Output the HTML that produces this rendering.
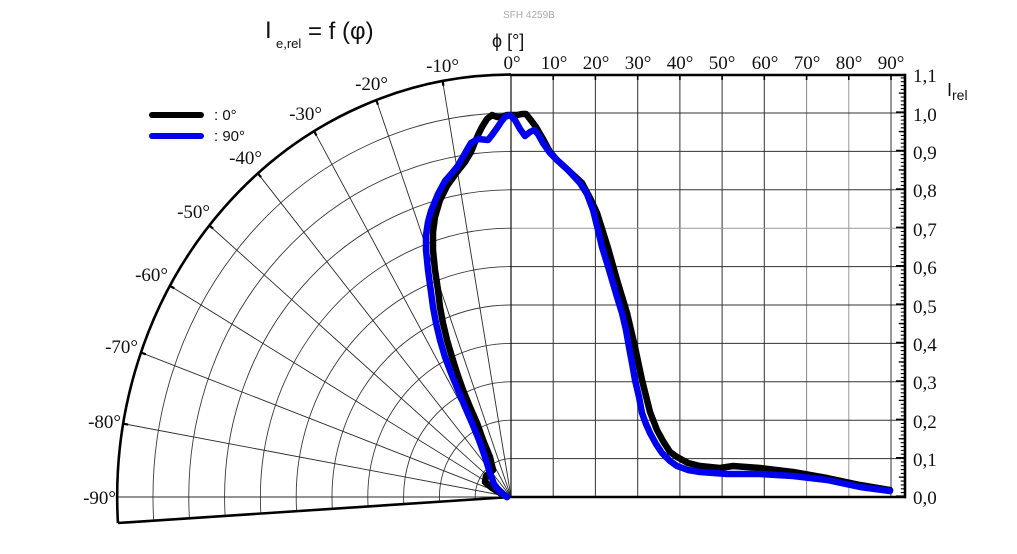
<!DOCTYPE html>
<html>
<head>
<meta charset="utf-8">
<style>
  html, body { margin: 0; padding: 0; background: #ffffff; }
  body { width: 1017px; height: 554px; overflow: hidden; }
  svg { display: block; }
  .ser { font-family: "Liberation Serif", "DejaVu Serif", serif; font-size: 19px; fill: #111; }
  .sans { font-family: "Liberation Sans", "DejaVu Sans", sans-serif; fill: #111; }
</style>
</head>
<body>
<svg width="1017" height="554" viewBox="0 0 1017 554" xmlns="http://www.w3.org/2000/svg">
  <rect x="0" y="0" width="1017" height="554" fill="#ffffff"/>

  <!-- Polar rings (ellipse arcs) -->
  <g fill="none" stroke="#3a3a3a" stroke-width="0.9">
    <path d="M511 458.6 A35.8 38.4 0 0 0 475.27 499.36"/>
    <path d="M511 420.2 A71.6 76.8 0 0 0 439.54 501.73"/>
    <path d="M511 381.8 A107.4 115.2 0 0 0 403.80 504.09"/>
    <path d="M511 343.4 A143.2 153.6 0 0 0 368.07 506.46"/>
    <path d="M511 305 A179 192 0 0 0 332.34 508.82"/>
    <path d="M511 266.6 A214.8 230.4 0 0 0 296.61 511.18"/>
    <path d="M511 228.2 A250.6 268.8 0 0 0 260.87 513.55"/>
    <path d="M511 189.8 A286.4 307.2 0 0 0 225.14 515.91"/>
    <path d="M511 151.4 A322.2 345.6 0 0 0 189.41 518.28"/>
    <path d="M511 113 A358 384 0 0 0 153.68 520.64"/>
  </g>
  <!-- Polar radial lines -->
  <g stroke="#2a2a2a" stroke-width="0.9">
    <line x1="511" y1="497" x2="442.62" y2="81.02"/>
    <line x1="511" y1="497" x2="376.31" y2="100.07"/>
    <line x1="511" y1="497" x2="314.1" y2="131.18"/>
    <line x1="511" y1="497" x2="257.87" y2="173.42"/>
    <line x1="511" y1="497" x2="209.34" y2="225.48"/>
    <line x1="511" y1="497" x2="169.96" y2="285.8"/>
    <line x1="511" y1="497" x2="140.95" y2="352.53"/>
    <line x1="511" y1="497" x2="123.18" y2="423.65"/>
    <line x1="511" y1="497" x2="117.2" y2="497"/>
  </g>
  <!-- Polar ticks on outer arc -->
  <g stroke="#000" stroke-width="2.2">
    <line x1="442.62" y1="81.02" x2="443.4" y2="85.8"/>
    <line x1="376.31" y1="100.07" x2="377.9" y2="104.7"/>
    <line x1="314.1" y1="131.18" x2="316.5" y2="135.5"/>
    <line x1="257.87" y1="173.42" x2="261" y2="177.2"/>
    <line x1="209.34" y1="225.48" x2="213" y2="228.6"/>
    <line x1="169.96" y1="285.8" x2="174.3" y2="288.4"/>
    <line x1="140.95" y1="352.53" x2="145.7" y2="354.3"/>
    <line x1="123.18" y1="423.65" x2="128" y2="424.6"/>
  </g>

  <!-- Cartesian grid -->
  <g stroke="#333" stroke-width="1">
    <line x1="553.2" y1="75" x2="553.2" y2="497"/>
    <line x1="595.4" y1="75" x2="595.4" y2="497"/>
    <line x1="637.7" y1="75" x2="637.7" y2="497"/>
    <line x1="679.9" y1="75" x2="679.9" y2="497"/>
    <line x1="722.1" y1="75" x2="722.1" y2="497"/>
    <line x1="764.3" y1="75" x2="764.3" y2="497"/>
    <line x1="806.6" y1="75" x2="806.6" y2="497" stroke="#888"/>
    <line x1="848.8" y1="75" x2="848.8" y2="497" stroke="#999"/>
    <line x1="891" y1="75" x2="891" y2="497"/>
    <line x1="511" y1="458.6" x2="905" y2="458.6"/>
    <line x1="511" y1="420.2" x2="905" y2="420.2"/>
    <line x1="511" y1="381.8" x2="905" y2="381.8"/>
    <line x1="511" y1="343.4" x2="905" y2="343.4"/>
    <line x1="511" y1="305" x2="905" y2="305"/>
    <line x1="511" y1="266.6" x2="905" y2="266.6"/>
    <line x1="511" y1="228.2" x2="905" y2="228.2" stroke="#999"/>
    <line x1="511" y1="189.8" x2="905" y2="189.8"/>
    <line x1="511" y1="151.4" x2="905" y2="151.4"/>
    <line x1="511" y1="113" x2="905" y2="113"/>
  </g>
  <line x1="511" y1="75" x2="511" y2="497" stroke="#111" stroke-width="1.2"/>

  <!-- Top axis ticks -->
  <g stroke="#000" stroke-width="1.6">
    <line x1="553.2" y1="75" x2="553.2" y2="80"/>
    <line x1="595.4" y1="75" x2="595.4" y2="80"/>
    <line x1="637.7" y1="75" x2="637.7" y2="80"/>
    <line x1="679.9" y1="75" x2="679.9" y2="80"/>
    <line x1="722.1" y1="75" x2="722.1" y2="80"/>
    <line x1="764.3" y1="75" x2="764.3" y2="80"/>
    <line x1="806.6" y1="75" x2="806.6" y2="80"/>
    <line x1="848.8" y1="75" x2="848.8" y2="80"/>
    <line x1="891" y1="75" x2="891" y2="80"/>
  </g>

  <!-- Right axis ticks (dash trick) -->
  <line x1="902.5" y1="497" x2="902.5" y2="75" stroke="#000" stroke-width="3.5" stroke-dasharray="1.1 2.74"/>
  <line x1="901.5" y1="497" x2="901.5" y2="75" stroke="#000" stroke-width="5.5" stroke-dasharray="1.3 17.9"/>
  <line x1="900" y1="497" x2="900" y2="75" stroke="#000" stroke-width="8" stroke-dasharray="1.6 36.8"/>

  <!-- Frame / outer arc -->
  <path d="M511 74.6 A393.8 422.4 0 0 0 117.94 523" fill="none" stroke="#000" stroke-width="2.6"/>
  <line x1="117.94" y1="523" x2="511" y2="497" stroke="#000" stroke-width="2.6"/>
  <line x1="510" y1="75" x2="906" y2="75" stroke="#000" stroke-width="2.6"/>
  <line x1="905" y1="73.7" x2="905" y2="498.3" stroke="#000" stroke-width="2.6"/>
  <line x1="511" y1="497" x2="906" y2="497" stroke="#000" stroke-width="2.6"/>

  <!-- Data curves -->
  <polyline fill="none" stroke="#000" stroke-width="6.5" stroke-linejoin="round" stroke-linecap="round"
    points="507,497 500,493 492,488 485,482 486,476 493,470 490,457 483,440 477,423 470,407 463,390 457,373 452,357 447,340 443,323 440,307 438,290 435,270 433,250 433,232 435,217 440,200 447,186 457,172 465,162 471,152 475,142 478,135 482,127 487,119 492,115 497,117 502,117 507,115 512,115 517,115 522,114 526,114 530,119 536,127 543,139 550,152 557,160 568,170 582,183 590,198 597,213 603,232 608,248 617,280 627,313 635,347 642,380 650,412 657,430 663,441 670,452 677,457 688,463 700,466 720,468 733,466 760,468 793,472 827,478 860,485 890,490"/>
  <polyline fill="none" stroke="#0000ee" stroke-width="6.5" stroke-linejoin="round" stroke-linecap="round"
    points="507,497 500,492 494,484 490,473 485,457 479,440 472,423 465,407 458,390 451,373 445,357 440,340 436,323 433,307 431,292 428,270 426,250 426,235 428,222 431,211 438,194 445,181 452,173 457,167 463,157 468,148 471,143 478,139 488,140 492,135 497,128 501,122 505,117 510,115 515,120 520,129 525,136 530,132 534,130 538,134 543,143 550,153 557,160 568,170 580,183 587,194 593,210 598,230 602,247 607,263 612,280 617,297 622,313 626,330 629,347 632,363 635,380 639,397 642,413 646,424 650,433 656,444 662,453 670,461 677,466 688,470 700,472 727,474 760,474 793,476 827,480 860,487 890,491"/>

  <!-- Legend -->
  <line x1="152" y1="115" x2="201" y2="115" stroke="#000" stroke-width="6" stroke-linecap="round"/>
  <line x1="152" y1="136" x2="201" y2="136" stroke="#0000ee" stroke-width="6" stroke-linecap="round"/>
  <text class="sans" x="214" y="120" font-size="15">: 0°</text>
  <text class="sans" x="214" y="141" font-size="15">: 90°</text>

  <!-- Top axis labels -->
  <g class="ser" text-anchor="middle">
    <text x="512" y="69">0°</text>
    <text x="554" y="69">10°</text>
    <text x="596" y="69">20°</text>
    <text x="638" y="69">30°</text>
    <text x="680" y="69">40°</text>
    <text x="722" y="69">50°</text>
    <text x="765" y="69">60°</text>
    <text x="807" y="69">70°</text>
    <text x="849" y="69">80°</text>
    <text x="891" y="69">90°</text>
  </g>
  <!-- Polar labels -->
  <g class="ser" text-anchor="end">
    <text x="459" y="72">-10°</text>
    <text x="388" y="90">-20°</text>
    <text x="322" y="120">-30°</text>
    <text x="262" y="164">-40°</text>
    <text x="210" y="218">-50°</text>
    <text x="168" y="281">-60°</text>
    <text x="138" y="353">-70°</text>
    <text x="121" y="428">-80°</text>
    <text x="116" y="504">-90°</text>
  </g>
  <!-- Right axis labels -->
  <g class="ser">
    <text x="913" y="82">1,1</text>
    <text x="913" y="121">1,0</text>
    <text x="913" y="159">0,9</text>
    <text x="913" y="197">0,8</text>
    <text x="913" y="236">0,7</text>
    <text x="913" y="274">0,6</text>
    <text x="913" y="313">0,5</text>
    <text x="913" y="351">0,4</text>
    <text x="913" y="389">0,3</text>
    <text x="913" y="428">0,2</text>
    <text x="913" y="466">0,1</text>
    <text x="913" y="504">0,0</text>
  </g>

  <!-- Titles -->
  <text class="sans" x="265" y="38" font-size="24">I</text>
  <text class="sans" x="276" y="48" font-size="13">e,rel</text>
  <text class="sans" x="308" y="39" font-size="24">= f (φ)</text>
  <text class="sans" x="529" y="18" font-size="10" style="fill:#aaaaaa" text-anchor="middle">SFH 4259B</text>
  <text class="sans" x="492" y="47" font-size="18">ϕ [°]</text>
  <text class="sans" x="947" y="96" font-size="18">I</text>
  <text class="sans" x="952" y="100" font-size="14">rel</text>
</svg>
</body>
</html>
